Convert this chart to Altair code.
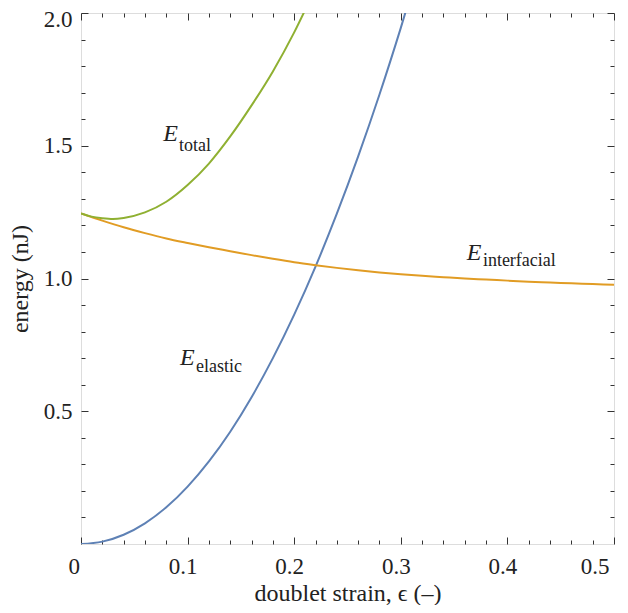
import altair as alt
import pandas as pd

# ---- data ----
elastic_x = [0.0, 0.02, 0.04, 0.06, 0.08, 0.10, 0.12, 0.14, 0.16, 0.18, 0.20,
             0.22, 0.24, 0.26, 0.28, 0.30, 0.32]
elastic_y = [0.0, 0.009, 0.035, 0.078, 0.138, 0.216, 0.311, 0.423, 0.553, 0.700,
             0.864, 1.045, 1.244, 1.460, 1.693, 1.944, 2.212]

interf_x = [0.0, 0.02, 0.04, 0.06, 0.08, 0.10, 0.12, 0.14, 0.16, 0.18, 0.20, 0.22,
            0.24, 0.26, 0.28, 0.30, 0.32, 0.34, 0.36, 0.38, 0.40, 0.42, 0.44,
            0.46, 0.48, 0.50]
interf_y = [1.245, 1.218, 1.193, 1.171, 1.151, 1.134, 1.118, 1.103, 1.088, 1.074,
            1.061, 1.050, 1.040, 1.031, 1.023, 1.016, 1.010, 1.005, 1.000, 0.996,
            0.992, 0.988, 0.985, 0.982, 0.979, 0.976]

total_x = [0.0, 0.01, 0.02, 0.03, 0.04, 0.06, 0.08, 0.10, 0.12, 0.14, 0.16, 0.18,
           0.20, 0.22]
total_y = [1.245, 1.233, 1.227, 1.224, 1.228, 1.249, 1.289, 1.352, 1.433, 1.535,
           1.652, 1.780, 1.927, 2.095]

series_names = ["elastic", "interfacial", "total"]
series_colors = ["#5E81B5", "#E19C24", "#8FB032"]

# annotation labels (data coordinates)
ann_main = ["E", "E", "E"]
ann_sub = ["total", "interfacial", "elastic"]
ann_main_x = [0.0772, 0.3618, 0.0929]
ann_main_y = [1.519, 1.070, 0.673]
ann_sub_x = [0.0920, 0.3770, 0.1078]
ann_sub_y = [1.481, 1.046, 0.647]

x_major = [0.0, 0.1, 0.2, 0.3, 0.4, 0.5]
x_minor = [0.02, 0.04, 0.06, 0.08, 0.12, 0.14, 0.16, 0.18, 0.22, 0.24, 0.26, 0.28,
           0.32, 0.34, 0.36, 0.38, 0.42, 0.44, 0.46, 0.48]
y_major = [0.5, 1.0, 1.5, 2.0]
y_minor = [0.1, 0.2, 0.3, 0.4, 0.6, 0.7, 0.8, 0.9, 1.1, 1.2, 1.3, 1.4, 1.6, 1.7,
           1.8, 1.9]

x_title = "doublet strain, ϵ (–)"
y_title = "energy (nJ)"

# ---- tables ----
rows = []
for name, xs, ys in [("elastic", elastic_x, elastic_y),
                     ("interfacial", interf_x, interf_y),
                     ("total", total_x, total_y)]:
    for xv, yv in zip(xs, ys):
        rows.append({"x": xv, "y": yv, "series": name})
df = pd.DataFrame(rows)

df_main = pd.DataFrame({"x": ann_main_x, "y": ann_main_y, "label": ann_main})
df_sub = pd.DataFrame({"x": ann_sub_x, "y": ann_sub_y, "label": ann_sub})

FONT = "Liberation Serif"
INK = "#222222"
TICK = "#333333"

W, H = 533, 531

xscale = alt.Scale(domain=[0, 0.5], nice=False, zero=False)
yscale = alt.Scale(domain=[0, 2.0], nice=False, zero=False)

lines = alt.Chart(df).mark_line(clip=True, strokeWidth=2, interpolate="monotone").encode(
    x=alt.X("x:Q", scale=xscale, axis=alt.Axis(
        orient="bottom", values=x_major, format="~g", ticks=False, domain=False,
        grid=False, labelPadding=11, labelFontSize=23, labelFont=FONT,
        labelColor=INK,
        labelOffset={"condition": {"test": "datum.value == 0", "value": -13},
                     "value": -5},
        title=x_title, titleFont=FONT, titleFontSize=24, titleFontWeight="normal",
        titleColor=INK, titleX=W / 2, titleY=56, titleBaseline="alphabetic",
        titleAlign="center")),
    y=alt.Y("y:Q", scale=yscale, axis=alt.Axis(
        orient="left", values=y_major, format=".1f", ticks=False, domain=False,
        grid=False, labelPadding=9, labelFontSize=23, labelFont=FONT,
        labelColor=INK,
        labelBaseline={"condition": {"test": "datum.value == 2", "value": "top"},
                       "value": "middle"},
        labelOffset={"condition": {"test": "datum.value == 2", "value": -5},
                     "value": 0},
        title=y_title, titleFont=FONT, titleFontSize=24, titleFontWeight="normal",
        titleColor=INK, titleAngle=-90, titleX=-61, titleY=H / 2,
        titleBaseline="middle", titleAlign="center")),
    color=alt.Color("series:N", scale=alt.Scale(domain=series_names,
                                                 range=series_colors),
                    legend=None),
    detail="series:N",
)


def tick_layer(orient_x, orient_y, xvals, yvals, size):
    return alt.Chart(df).mark_point(opacity=0).encode(
        x=alt.X("x:Q", scale=xscale, axis=alt.Axis(
            orient=orient_x, values=xvals, labels=False, domain=False, grid=False,
            ticks=True, tickSize=size, offset=-size, tickColor=TICK,
            tickWidth=1, title=None)),
        y=alt.Y("y:Q", scale=yscale, axis=alt.Axis(
            orient=orient_y, values=yvals, labels=False, domain=False, grid=False,
            ticks=True, tickSize=size, offset=-size, tickColor=TICK,
            tickWidth=1, title=None)),
    )


t1 = tick_layer("bottom", "left", x_major, y_major, 7)
t2 = tick_layer("bottom", "left", x_minor, y_minor, 4)
t3 = tick_layer("top", "right", x_major, y_major, 7)
t4 = tick_layer("top", "right", x_minor, y_minor, 4)

txt_main = alt.Chart(df_main).mark_text(
    font=FONT, fontSize=24, fontStyle="italic", align="left",
    baseline="alphabetic", color=INK).encode(
    x=alt.X("x:Q", scale=xscale, axis=None),
    y=alt.Y("y:Q", scale=yscale, axis=None),
    text="label:N")

txt_sub = alt.Chart(df_sub).mark_text(
    font=FONT, fontSize=18, align="left", baseline="alphabetic",
    color=INK).encode(
    x=alt.X("x:Q", scale=xscale, axis=None),
    y=alt.Y("y:Q", scale=yscale, axis=None),
    text="label:N")

chart = alt.layer(lines, t1, t2, t3, t4, txt_main, txt_sub).resolve_axis(
    x="independent", y="independent"
).properties(
    width=W, height=H,
    autosize=alt.AutoSizeParams(type="none"),
    padding={"left": 73, "top": 5, "right": 6, "bottom": 61},
).configure_view(stroke=TICK, strokeWidth=1.3).configure(background="white")

chart.save("out.html", embed_options={"renderer": "svg", "actions": False})
